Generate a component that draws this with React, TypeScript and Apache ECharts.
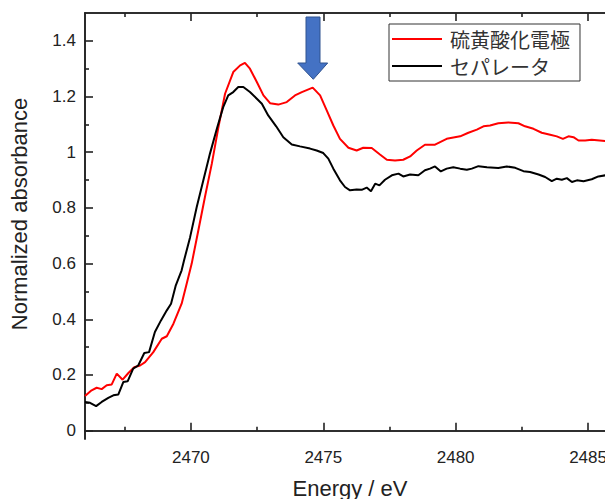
import React, { useEffect, useRef } from "react";
import * as echarts from "echarts";

// 硫黄酸化電極 (red)
const redEnergy = [
  2466.0, 2466.25, 2466.44, 2466.63, 2466.82, 2467.01, 2467.2, 2467.42, 2467.64, 2467.86,
  2468.08, 2468.27, 2468.58, 2468.9, 2469.09, 2469.34, 2469.65, 2469.84, 2470.03, 2470.28,
  2470.53, 2470.79, 2471.04, 2471.29, 2471.6, 2471.86, 2472.04, 2472.23, 2472.49, 2472.74,
  2472.99, 2473.3, 2473.62, 2473.93, 2474.19, 2474.6, 2474.88, 2475.13, 2475.38, 2475.63,
  2475.95, 2476.26, 2476.51, 2476.83, 2477.14, 2477.4, 2477.71, 2478.02, 2478.28, 2478.53,
  2478.84, 2479.22, 2479.66, 2480.17, 2480.48, 2480.8, 2481.05, 2481.3, 2481.61, 2481.99,
  2482.37, 2482.62, 2482.94, 2483.25, 2483.57, 2483.82, 2484.05, 2484.26, 2484.45, 2484.64,
  2484.89, 2485.14, 2485.65, 2486.2, 2486.8,
];
const redValues = [
  0.124, 0.145, 0.154, 0.149, 0.163, 0.166, 0.205, 0.183, 0.207, 0.228,
  0.234, 0.246, 0.282, 0.33, 0.339, 0.384, 0.456, 0.528, 0.6, 0.719,
  0.839, 0.959, 1.09, 1.21, 1.288, 1.312, 1.321, 1.3, 1.252, 1.204,
  1.176, 1.171, 1.18, 1.204, 1.216, 1.232, 1.204, 1.15, 1.096, 1.048,
  1.016, 1.006, 1.016, 1.015, 0.992, 0.973, 0.97, 0.973, 0.985, 1.006,
  1.027, 1.027, 1.048, 1.057, 1.07, 1.081, 1.093, 1.096, 1.104, 1.107,
  1.104, 1.093, 1.084, 1.07, 1.063, 1.057, 1.048, 1.057, 1.054, 1.042,
  1.042, 1.045, 1.04, 1.038, 1.035,
];

// セパレータ (black)
const blackEnergy = [
  2466.0, 2466.19, 2466.42, 2466.63, 2466.88, 2467.07, 2467.26, 2467.45, 2467.61, 2467.82,
  2468.01, 2468.24, 2468.42, 2468.64, 2468.87, 2469.09, 2469.25, 2469.43, 2469.65, 2469.74,
  2469.97, 2470.22, 2470.47, 2470.72, 2470.98, 2471.22, 2471.41, 2471.6, 2471.79, 2471.98,
  2472.23, 2472.49, 2472.68, 2472.92, 2473.22, 2473.49, 2473.81, 2474.12, 2474.5, 2474.75,
  2475.0, 2475.19, 2475.38, 2475.63, 2475.82, 2476.01, 2476.26, 2476.45, 2476.64, 2476.8,
  2476.96, 2477.12, 2477.33, 2477.59, 2477.84, 2478.02, 2478.28, 2478.59, 2478.84, 2479.03,
  2479.22, 2479.44, 2479.66, 2479.91, 2480.17, 2480.42, 2480.61, 2480.86, 2481.18, 2481.61,
  2481.93, 2482.25, 2482.56, 2482.81, 2483.13, 2483.38, 2483.63, 2483.82, 2484.01, 2484.2,
  2484.39, 2484.58, 2484.83, 2485.14, 2485.39, 2485.65, 2486.2, 2486.8,
];
const blackValues = [
  0.103, 0.1, 0.088, 0.103, 0.118, 0.127, 0.13, 0.175, 0.177, 0.223,
  0.234, 0.279, 0.282, 0.354, 0.396, 0.432, 0.456, 0.522, 0.576, 0.611,
  0.695, 0.803, 0.899, 0.995, 1.084, 1.162, 1.204, 1.216, 1.234, 1.234,
  1.216, 1.192, 1.174, 1.132, 1.093, 1.054, 1.028, 1.021, 1.013, 1.006,
  0.997, 0.977, 0.941, 0.899, 0.875, 0.863, 0.866, 0.865, 0.873, 0.86,
  0.887, 0.881, 0.901, 0.917, 0.923, 0.913, 0.92, 0.917, 0.935, 0.941,
  0.949, 0.931, 0.941, 0.946, 0.941, 0.937, 0.941, 0.95, 0.946, 0.943,
  0.949, 0.944, 0.932, 0.929, 0.92, 0.911, 0.896, 0.905, 0.901, 0.907,
  0.893, 0.899, 0.896, 0.903, 0.913, 0.917, 0.92, 0.92,
];

const seriesNames = ["硫黄酸化電極", "セパレータ"];
const xMajorTicks = [2470, 2475, 2480, 2485];
const xMinorTicks = [2467.5, 2472.5, 2477.5, 2482.5];
const yMajorTicks = [0, 0.2, 0.4, 0.6, 0.8, 1, 1.2, 1.4];
const yMinorTicks = [0.1, 0.3, 0.5, 0.7, 0.9, 1.1, 1.3];
const xTitle = "Energy / eV";
const yTitle = "Normalized absorbance";

const X_MIN = 2466;
const X_MAX = 2487;
const Y_MIN = -0.03;
const Y_MAX = 1.5;

const AXIS_COLOR = "#222";
const LATIN = "'Liberation Sans', Arial, sans-serif";
const CJK = "'Noto Sans CJK JP', sans-serif";

function zip(xs: number[], ys: number[]) {
  return xs.map((x, i) => [x, ys[i]]);
}

const plain = (v: number) => String(v);

function xAx(position: "top" | "bottom", ticks: number[], len: number, labels: boolean) {
  return {
    type: "value",
    min: X_MIN,
    max: X_MAX,
    position,
    axisLine: { show: true, lineStyle: { color: AXIS_COLOR, width: 1.6 } },
    axisTick: {
      show: true,
      inside: true,
      length: len,
      customValues: ticks,
      lineStyle: { color: AXIS_COLOR, width: 1.6 },
    },
    axisLabel: labels
      ? {
          show: true,
          customValues: ticks,
          formatter: plain,
          fontSize: 17,
          color: AXIS_COLOR,
          margin: 10,
          fontFamily: LATIN,
        }
      : { show: false },
    splitLine: { show: false },
  };
}

function yAx(ticks: number[], len: number, labels: boolean) {
  return {
    type: "value",
    min: Y_MIN,
    max: Y_MAX,
    position: "left",
    axisLine: { show: true, lineStyle: { color: AXIS_COLOR, width: 1.6 } },
    axisTick: {
      show: true,
      inside: true,
      length: len,
      customValues: ticks,
      lineStyle: { color: AXIS_COLOR, width: 1.6 },
    },
    axisLabel: labels
      ? {
          show: true,
          customValues: ticks,
          formatter: plain,
          fontSize: 17,
          color: AXIS_COLOR,
          margin: 9,
          fontFamily: LATIN,
        }
      : { show: false },
    splitLine: { show: false },
  };
}

export default function App() {
  const ref = useRef<HTMLDivElement>(null);

  useEffect(() => {
    if (!ref.current) return;
    const chart = echarts.init(ref.current, null, { renderer: "svg" });
    chart.setOption({
      animation: false,
      backgroundColor: "#fff",
      grid: { left: 85, top: 13, width: 556, height: 426 },
      xAxis: [
        xAx("bottom", xMajorTicks, 8, true),
        xAx("bottom", xMinorTicks, 4, false),
        xAx("top", xMajorTicks, 8, false),
        xAx("top", xMinorTicks, 4, false),
      ],
      yAxis: [yAx(yMajorTicks, 8, true), yAx(yMinorTicks, 4, false)],
      legend: {
        orient: "vertical",
        left: 389,
        top: 24,
        padding: [5, 10, 5, 3],
        icon: "rect",
        itemWidth: 50,
        itemHeight: 2,
        itemGap: 7,
        borderColor: "#333",
        borderWidth: 1,
        borderRadius: 0,
        backgroundColor: "#fff",
        textStyle: { fontSize: 20, fontFamily: CJK, color: "#333", padding: [0, 0, 0, 3] },
        data: seriesNames,
      },
      series: [
        {
          name: seriesNames[0],
          type: "line",
          symbol: "none",
          xAxisIndex: 0,
          yAxisIndex: 0,
          color: "#ff0000",
          lineStyle: { color: "#ff0000", width: 2 },
          data: zip(redEnergy, redValues),
        },
        {
          name: seriesNames[1],
          type: "line",
          symbol: "none",
          xAxisIndex: 0,
          yAxisIndex: 0,
          color: "#000000",
          lineStyle: { color: "#000000", width: 2 },
          data: zip(blackEnergy, blackValues),
        },
      ],
      graphic: [
        {
          type: "polygon",
          shape: {
            points: [
              [306, 17],
              [320, 17],
              [320, 63],
              [327.7, 63],
              [313.3, 79.3],
              [297.7, 63],
              [306, 63],
            ],
          },
          style: { fill: "#4472C4", stroke: "#2F528F", lineWidth: 1 },
          z: 10,
        },
        {
          type: "text",
          x: 350,
          y: 488,
          style: {
            text: xTitle,
            fontSize: 22,
            fontFamily: LATIN,
            fill: AXIS_COLOR,
            textAlign: "center",
            textVerticalAlign: "middle",
          },
        },
        {
          type: "text",
          x: 19,
          y: 214,
          rotation: Math.PI / 2,
          style: {
            text: yTitle,
            fontSize: 22,
            fontFamily: LATIN,
            fill: AXIS_COLOR,
            textAlign: "center",
            textVerticalAlign: "middle",
          },
        },
      ],
    });
    return () => chart.dispose();
  }, []);

  return (
    <div
      style={{
        position: "fixed",
        left: 0,
        top: 0,
        width: 605,
        height: 499,
        overflow: "hidden",
        background: "#fff",
      }}
    >
      <div ref={ref} style={{ width: 700, height: 499 }} />
    </div>
  );
}
